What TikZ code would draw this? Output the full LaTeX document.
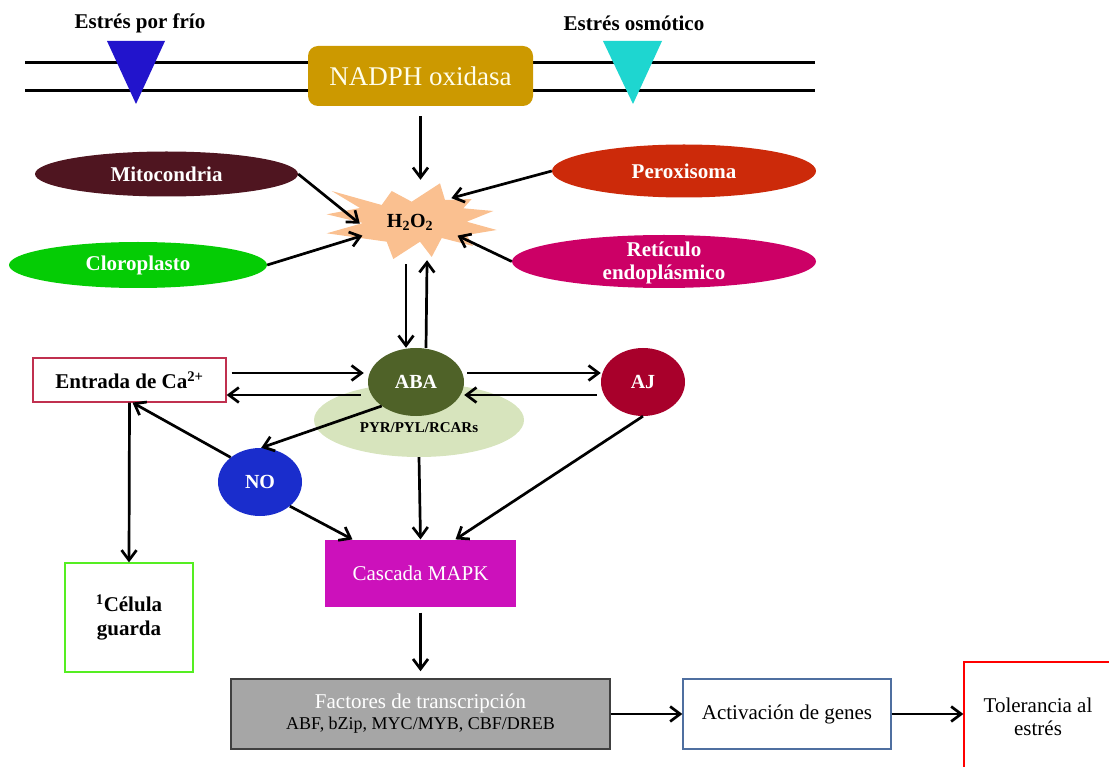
\documentclass[tikz,border=0pt]{standalone}
\usepackage{fontspec}
\setmainfont{Liberation Serif}
\usepackage{xcolor}
\usetikzlibrary{arrows.meta}
\usetikzlibrary{shapes.geometric}
\usetikzlibrary{calc}
\definecolor{coldblue}{HTML}{2214CC}
\definecolor{osmocyan}{HTML}{1ED6D0}
\definecolor{nadphgold}{HTML}{CC9900}
\definecolor{burstpeach}{HTML}{FAC090}
\definecolor{mitored}{HTML}{4F1520}
\definecolor{clorogreen}{HTML}{05CC05}
\definecolor{peroxred}{HTML}{CC2A0A}
\definecolor{reticmag}{HTML}{CC0066}
\definecolor{pyrgreen}{HTML}{D7E4BD}
\definecolor{abagreen}{HTML}{4F6228}
\definecolor{ajred}{HTML}{A8002B}
\definecolor{noblue}{HTML}{1A2DCC}
\definecolor{cared}{HTML}{C0304F}
\definecolor{celgreen}{HTML}{55EE22}
\definecolor{mapkmag}{HTML}{CC11BB}
\definecolor{factfill}{HTML}{A6A6A6}
\definecolor{factgray}{HTML}{404040}
\definecolor{activblue}{HTML}{4F6FA0}
\newcommand{\fsz}[2]{\fontsize{#1}{#2}\selectfont}

\begin{document}
\begin{tikzpicture}[x=1pt,y=-1pt,
		arr/.style={line width=2.7pt, -{Straight Barb[length=10pt,width=15pt]}},
		organelle/.style={ellipse, inner sep=0pt, text=white, font=\bfseries\fsz{21}{23}},
		molecule/.style={ellipse, inner sep=0pt, minimum width=84pt, minimum height=68pt, text=white, font=\bfseries\fsz{20}{24}},
		plainbox/.style={rectangle, inner sep=0pt, line width=1.2pt, align=center}]
	\useasboundingbox (0,0) rectangle (1109,767);
	\clip (0,0) rectangle (1109,767);
	% membrane
	\draw[line width=3pt] (25,63) -- (815,63);
	\draw[line width=3pt] (25,91) -- (815,91);
	\fill[coldblue] (107,41) -- (165,41) -- (136,104) -- cycle;
	\fill[osmocyan] (603,41) -- (662,41) -- (633,104) -- cycle;
	\node[font=\bfseries\fsz{21}{25}] (frio) at (140,23) {Estrés por frío};
	\node[font=\bfseries\fsz{21}{25}] (osmo) at (634,23) {Estrés osmótico};
	\node[fill=nadphgold, rounded corners=10pt, minimum width=225pt, minimum height=60pt, text=white!92!yellow, font=\fsz{27}{30}] (nadph) at (420.5,76) {NADPH oxidasa};
	% H2O2 burst
	\fill[burstpeach] (326.7,214.3) -- (360,208) -- (331.7,191) -- (381.7,205) -- (391.7,191) -- (411.7,201.7)
		-- (440,183.3) -- (445,200) -- (471.7,199) -- (463.3,208.3) -- (493.3,211) -- (466.7,221.7)
		-- (496.7,230) -- (466.7,235) -- (473,246) -- (441.7,238) -- (431.7,257) -- (420,241.7)
		-- (393.3,259) -- (386.7,241.7) -- (326.7,233.3) -- (363,223) -- cycle;
	\node[ellipse, minimum width=100pt, minimum height=84pt, inner sep=0pt, font=\bfseries\fsz{20}{24}] (h2o2) at (410,222) {H\textsubscript{2}O\textsubscript{2}};
	% organelles
	\node[organelle, fill=mitored, minimum width=263pt, minimum height=45pt] (mito) at (166.5,174) {Mitocondria};
	\node[organelle, fill=clorogreen, minimum width=258pt, minimum height=46pt] (cloro) at (138,265) {Cloroplasto};
	\node[organelle, fill=peroxred, minimum width=264pt, minimum height=53pt] (perox) at (684,171) {Peroxisoma};
	\node[organelle, fill=reticmag, minimum width=304pt, minimum height=53pt] (retic) at (664,261.5) {};
	\node[font=\bfseries\fsz{21}{23}, text=white, align=center] (retictext) at (664,263) {Retículo\\endoplásmico};
	% signalling
	\node[ellipse, fill=pyrgreen, minimum width=210pt, minimum height=74pt] (pyr) at (419,420) {};
	\node[molecule, fill=abagreen, minimum width=96pt] (aba) at (416,382) {ABA};
	\node[font=\bfseries\fsz{15}{18}] (pyrtext) at (419,428) {PYR/PYL/RCARs};
	\node[molecule, fill=ajred] (aj) at (643,382) {AJ};
	\node[molecule, fill=noblue] (no) at (260,482) {NO};
	\node[plainbox, draw=cared, minimum width=193pt, minimum height=44pt, font=\bfseries\fsz{21}{25}] (ca) at (129.5,380) {Entrada de Ca\textsuperscript{2+}};
	\node[plainbox, draw=celgreen, minimum width=128pt, minimum height=109pt, font=\bfseries\fsz{21}{24}] (celula) at (129,617.5) {\textsuperscript{1}Célula\\guarda};
	\node[plainbox, fill=mapkmag, minimum width=191pt, minimum height=67pt, text=white, font=\fsz{21}{25}] (mapk) at (420.5,573.5) {Cascada MAPK};
	% response
	\node[plainbox, draw=factgray, fill=factfill, line width=1.5pt, minimum width=379pt, minimum height=70pt, font=\fsz{21}{21}] (factores) at (420.5,714) {{\color{white}Factores de transcripción}\\{\fsz{18}{21}ABF, bZip, MYC/MYB, CBF/DREB}};
	\node[plainbox, draw=activblue, minimum width=208pt, minimum height=70pt, font=\fsz{21}{25}] (activ) at (787,714) {Activación de genes};
	\node[plainbox, draw=red, minimum width=148pt, minimum height=110pt, font=\fsz{21}{23}] (toler) at (1038,717) {Tolerancia al\\estrés};
	% arrows
	\draw[arr] ([yshift=-10pt]nadph.south) -- (nadph.south |- h2o2.north);
	\draw[arr] (mito.east) -- (h2o2.182);
	\draw[arr] (cloro.east) -- (h2o2.196);
	\draw[arr] (perox.west) -- (h2o2.30);
	\draw[arr] (retic.west) -- (h2o2.-16);
	\draw[arr] ([xshift=-4pt]h2o2.south) -- ([xshift=-10pt]aba.north);
	\draw[arr, shorten >=-4pt] ([xshift=10pt]aba.north) -- ([xshift=17pt]h2o2.south);
	\draw[arr, shorten <=5pt, shorten >=4pt] ([yshift=7pt]ca.east) -- ([yshift=7pt]ca.east -| aba.west);
	\draw[arr, shorten <=7pt] ([yshift=-15pt]ca.east -| aba.west) -- ([yshift=-15pt]ca.east);
	\draw[arr, shorten <=3pt] ([yshift=9pt]aba.east) -- ([yshift=9pt]aba.east -| aj.west);
	\draw[arr, shorten <=4pt] ([yshift=-13pt]aj.west) -- ([yshift=-13pt]aj.west -| aba.east);
	\draw[arr] (aba.215) -- (no.88);
	\draw[arr] (no.140) -- ([xshift=3pt]ca.south);
	\draw[arr] (ca.south) -- (celula.north);
	\draw[arr] (no.-39) -- ([xshift=-68pt]mapk.north);
	\draw[arr] (pyr.south) -- (mapk.north);
	\draw[arr] (aj.south) -- ([xshift=35pt]mapk.north);
	\draw[arr, shorten <=5pt, shorten >=7pt] (mapk.south) -- (factores.north);
	\draw[arr] (factores.east) -- (activ.west);
	\draw[arr] (activ.east) -- (activ.east -| toler.west);
\end{tikzpicture}
\end{document}
